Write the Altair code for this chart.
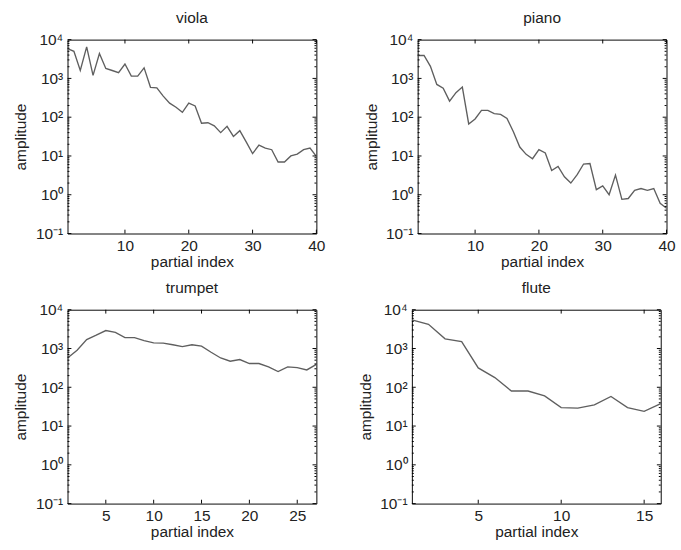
import altair as alt
import pandas as pd

# Partial amplitudes (linear units) for each instrument
viola = [5900, 5000, 1600, 6500, 1200, 4400, 1800, 1600, 1400, 2350,
         1150, 1150, 1870, 590, 570, 350, 230, 180, 134, 230,
         195, 70, 72, 60, 40, 58, 32, 45, 23, 11.5,
         19, 16, 14.5, 7, 7, 10, 11.2, 14.5, 16, 9.8]
piano = [3900, 3900, 2050, 700, 560, 260, 430, 600, 67, 90,
         150, 150, 123, 118, 93, 42, 17, 11, 8.5, 14.5,
         12, 4.2, 5.4, 2.9, 2.0, 3.3, 6.2, 6.4, 1.35, 1.7,
         1.0, 3.2, 0.76, 0.8, 1.3, 1.45, 1.3, 1.45, 0.6, 0.45]
trumpet = [570, 900, 1700, 2200, 2900, 2600, 1900, 1900, 1600, 1400,
           1380, 1250, 1120, 1250, 1150, 800, 570, 470, 520, 410,
           410, 335, 255, 335, 320, 280, 390]
flute = [5500, 4200, 1780, 1500, 316, 178, 80, 80, 60, 30,
         29, 35, 58, 30, 24, 38]

x_ticks = {
    "viola": [10, 20, 30, 40],
    "piano": [10, 20, 30, 40],
    "trumpet": [5, 10, 15, 20, 25],
    "flute": [5, 10, 15],
}
y_major = [0.1, 1, 10, 100, 1000, 10000]
y_minor = [m * d for d in [0.1, 1, 10, 100, 1000] for m in range(2, 10)]

FONT = "Liberation Sans"
FS = 16
W, H = 258, 201
LINE_COLOR = "#5f5f5f"
AXIS_COLOR = "#000000"

SUP = ("'10' + (datum.value < 0.5 ? '\u207b\u00b9' : datum.value < 5 ? '\u2070' : "
       "datum.value < 50 ? '\u00b9' : datum.value < 500 ? '\u00b2' : "
       "datum.value < 5000 ? '\u00b3' : '\u2074')")


def panel(name, values):
    n = len(values)
    df = pd.DataFrame({"partial": list(range(1, n + 1)), "amplitude": values})
    xs = alt.Scale(domain=[1, n], nice=False, zero=False)
    ys = alt.Scale(type="log", domain=[0.1, 10000], nice=False)
    x_axis = alt.Axis(title="partial index", values=x_ticks[name],
                      ticks=False, domain=False, grid=False,
                      labelPadding=5, titlePadding=0, labelFlush=False)
    y_axis = alt.Axis(title="amplitude", values=y_major, labelExpr=SUP,
                      ticks=False, domain=False, grid=False,
                      labelPadding=5, titlePadding=7, labelFlush=False)
    X = alt.X("partial:Q", scale=xs, axis=x_axis)
    Y = alt.Y("amplitude:Q", scale=ys, axis=y_axis)

    line = alt.Chart(df).mark_line(color=LINE_COLOR, strokeWidth=1.4).encode(x=X, y=Y)

    major = pd.DataFrame({"amplitude": y_major})
    minor = pd.DataFrame({"amplitude": y_minor})
    xt = pd.DataFrame({"partial": x_ticks[name]})

    # inward tick marks on all four sides of the box
    def ytick(data, x0, x1):
        return alt.Chart(data).mark_rule(color=AXIS_COLOR, strokeWidth=1).encode(
            y=Y, x=alt.value(x0), x2=alt.value(x1))

    def xtick(y0, y1):
        return alt.Chart(xt).mark_rule(color=AXIS_COLOR, strokeWidth=1).encode(
            x=X, y=alt.value(y0), y2=alt.value(y1))

    layers = [
        line,
        ytick(major, 0, 4), ytick(major, W - 4, W),
        ytick(minor, 0, 2), ytick(minor, W - 2, W),
        xtick(H - 4, H), xtick(0, 4),
    ]
    return alt.layer(*layers).properties(
        width=W, height=H,
        title=alt.TitleParams(name, fontSize=FS, fontWeight="normal",
                              font=FONT, color="#222222", offset=6),
    )


top = alt.hconcat(panel("viola", viola), panel("piano", piano), spacing=38)
bottom = alt.hconcat(panel("trumpet", trumpet), panel("flute", flute), spacing=38)

chart = alt.vconcat(top, bottom, spacing=10).properties(
    padding={"left": 13, "top": 0, "right": 5, "bottom": 0},
    background="white",
).configure_view(
    stroke=AXIS_COLOR, strokeWidth=1
).configure_axis(
    labelFont=FONT, titleFont=FONT, labelFontSize=FS, titleFontSize=FS,
    labelColor="#222222", titleColor="#222222", titleFontWeight="normal",
)

chart.save("out.html", embed_options={"renderer": "svg", "actions": False})
